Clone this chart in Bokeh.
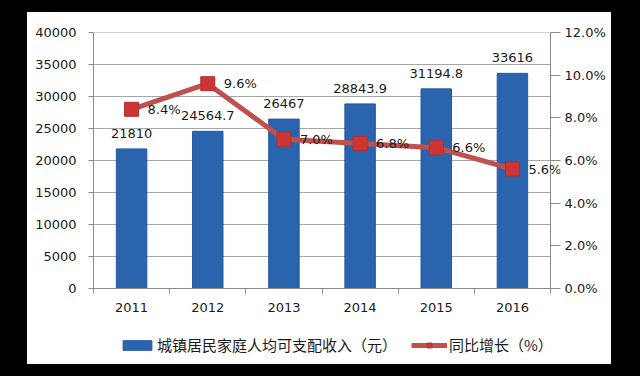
from bokeh.plotting import figure
from bokeh.layouts import column
from bokeh.models import (ColumnDataSource, Range1d, LinearAxis, FixedTicker, Span,
                          PrintfTickFormatter, LabelSet, Legend, LegendItem)
from bokeh.core.properties import value
from bokeh.embed import file_html
from bokeh.resources import INLINE

years = ["2011", "2012", "2013", "2014", "2015", "2016"]
income = [21810, 24564.7, 26467, 28843.9, 31194.8, 33616]
growth = [8.4, 9.6, 7.0, 6.8, 6.6, 5.6]
income_ticks = [0, 5000, 10000, 15000, 20000, 25000, 30000, 35000, 40000]
growth_ticks = [0, 2, 4, 6, 8, 10, 12]
bar_name = "城镇居民家庭人均可支配收入（元）"
line_name = "同比增长（%）"

x = list(range(1, len(years) + 1))
bounds = [i - 0.5 for i in x] + [x[-1] + 0.5]

src = ColumnDataSource(dict(
    x=x, income=income, growth=growth,
    inc_lbl=[f"{v:g}" for v in income],
    gr_lbl=[f"{v:.1f}%" for v in growth],
))
grid_src = ColumnDataSource(dict(
    x0=[bounds[0]] * len(income_ticks), x1=[bounds[-1]] * len(income_ticks),
    y=income_ticks,
))

NUM_FONT = "DejaVu Sans"
CJK_FONT = "Noto Sans CJK SC"
AX = "#8a8a8a"
FS = "13px"
BAR = dict(fill_color="#2a64ae", line_color="#2559a0", line_width=1)
LINE = dict(line_color="#c0504d", line_width=5)
MARK = dict(marker="square", size=14, fill_color="#cf3434", line_color="#b03030")

# frame runs 10px past the right value axis so the last line label is not clipped
p = figure(width=584, height=308, output_backend="svg", toolbar_location=None,
           x_range=Range1d(bounds[0], bounds[-1] + 0.131), y_range=Range1d(0, 40000),
           min_border_left=66, min_border_right=51, min_border_top=20,
           min_border_bottom=32, border_fill_color="white",
           background_fill_color="white", outline_line_color=None)
p.extra_y_ranges = {"g": Range1d(0, 12)}

# horizontal grid lines, limited to the category span
p.segment(x0="x0", x1="x1", y0="y", y1="y", source=grid_src,
          line_color="#a6a6a6", line_width=1)
p.add_layout(Span(location=bounds[-1], dimension="height", line_color=AX, line_width=1))

p.vbar(x="x", top="income", width=0.4, source=src, **BAR)
p.line(x="x", y="growth", source=src, y_range_name="g", **LINE)
p.scatter(x="x", y="growth", source=src, y_range_name="g", **MARK)

# axes
p.xaxis.ticker = FixedTicker(ticks=x, minor_ticks=bounds)
p.xaxis.major_label_overrides = {xi: y for xi, y in zip(x, years)}
p.xaxis.bounds = (bounds[0], bounds[-1])
p.xaxis.major_tick_line_color = None
p.xaxis.minor_tick_out = 5
p.xaxis.minor_tick_in = 0
p.xaxis.minor_tick_line_color = AX
p.xaxis.major_label_standoff = 9

p.yaxis.ticker = FixedTicker(ticks=income_ticks)
p.yaxis.minor_tick_line_color = None
p.yaxis.major_label_standoff = 12

ra = LinearAxis(y_range_name="g", ticker=FixedTicker(ticks=growth_ticks),
                formatter=PrintfTickFormatter(format="%.1f%%"))
p.add_layout(ra, "right")

for ax in [p.xaxis[0], p.yaxis[0], ra]:
    ax.axis_line_color = AX
    ax.major_tick_in = 0
    ax.major_tick_out = 5
    ax.major_label_text_font = NUM_FONT
    ax.major_label_text_font_size = FS
    ax.major_label_text_color = "#1a1a1a"
    if ax is not p.xaxis[0]:
        ax.major_tick_line_color = AX

ra.minor_tick_line_color = None
ra.axis_line_color = None
ra.major_tick_out = 0
ra.major_tick_in = 10
ra.major_label_standoff = 4

p.xgrid.grid_line_color = None
p.ygrid.grid_line_color = None

# data labels
p.add_layout(LabelSet(x="x", y="income", text="inc_lbl", source=src,
                      text_align="center", text_baseline="alphabetic", y_offset=11,
                      text_font=value(NUM_FONT), text_font_size=value(FS),
                      text_color="#1a1a1a"))
p.add_layout(LabelSet(x="x", y="growth", text="gr_lbl", source=src, y_range_name="g",
                      text_align="left", text_baseline="middle", x_offset=16,
                      text_font=value(NUM_FONT), text_font_size=value(FS),
                      text_color="#1a1a1a"))

# legend strip (own small figure, so the legend is not clipped by the chart frame)
q = figure(width=584, height=44, output_backend="svg", toolbar_location=None,
           x_range=Range1d(0, 1), y_range=Range1d(0, 1),
           x_axis_location=None, y_axis_location=None,
           min_border_left=66, min_border_right=51, min_border_top=0,
           min_border_bottom=0, border_fill_color="white",
           background_fill_color="white", outline_line_color=None)
q.grid.visible = False
lb = q.vbar(x="x", top="income", width=0.4, source=src, visible=False, **BAR)
ll = q.line(x="x", y="growth", source=src, visible=False, **LINE)
lm = q.scatter(x="x", y="growth", source=src, visible=False, **MARK)

legend = Legend(items=[LegendItem(label=bar_name, renderers=[lb]),
                       LegendItem(label=line_name, renderers=[ll, lm])],
                orientation="horizontal", location=(26, 9),
                glyph_width=36, glyph_height=12, label_standoff=2, spacing=14,
                label_text_font=CJK_FONT, label_text_font_size="15px",
                label_text_color="#1a1a1a",
                background_fill_alpha=0, border_line_color=None,
                padding=0, margin=0)
q.add_layout(legend, "center")

layout = column(p, q, spacing=0)
layout.margin = (12, 0, 0, 27)
layout.styles = {"background-color": "#ffffff"}

html = file_html(layout, INLINE)
html = html.replace("</head>", "<style>html,body{background:#000;}</style></head>", 1)
open("out.html", "w").write(html)
